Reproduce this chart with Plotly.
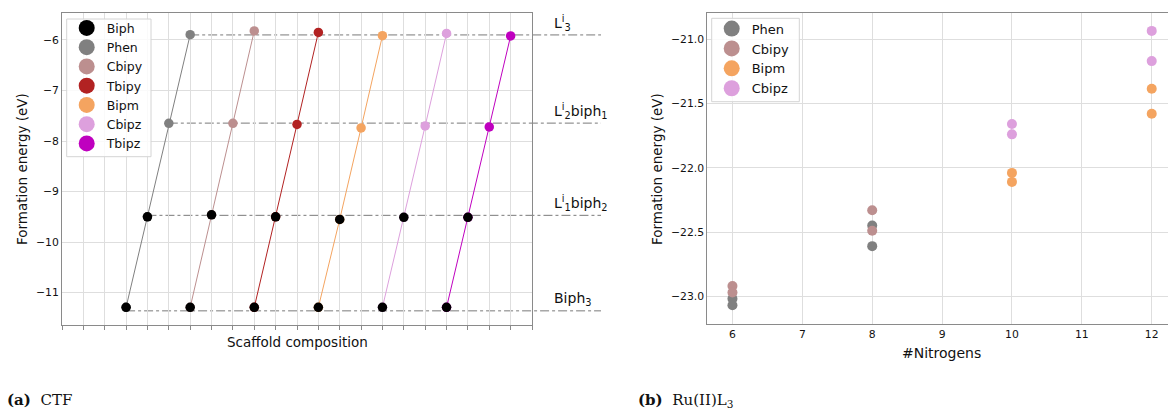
import plotly.graph_objects as go

# ---------------- Left panel (a) CTF ----------------
ligands = ["Phen", "Cbipy", "Tbipy", "Bipm", "Cbipz", "Tbipz"]
ligand_colors = ["#808080", "#bc8f8f", "#b22222", "#f4a460", "#dda0dd", "#bf00bf"]
biph_name = "Biph"
biph_color = "#000000"

# scaffold position of the Biph3 member of each ligand series
series_start = [3, 6, 9, 12, 15, 18]
# formation energies (eV) for compositions Biph3, L1biph2, L2biph1, L3
e_biph3 = [-11.29, -11.29, -11.29, -11.29, -11.29, -11.29]
e_l1biph2 = [-9.50, -9.46, -9.50, -9.55, -9.51, -9.51]
e_l2biph1 = [-7.65, -7.65, -7.67, -7.74, -7.70, -7.72]
e_l3 = [-5.895, -5.82, -5.85, -5.915, -5.87, -5.92]

# reference levels (dash-dot lines) and their labels
ref_levels = [-11.36, -9.47, -7.645, -5.90]
ref_labels = ["Biph<sub>3</sub>",
              "L<sup>i</sup><sub>1</sub>biph<sub>2</sub>",
              "L<sup>i</sup><sub>2</sub>biph<sub>1</sub>",
              "L<sup>i</sup><sub>3</sub>"]

# ---------------- Right panel (b) Ru(II)L3 ----------------
ru_ligands = ["Phen", "Cbipy", "Bipm", "Cbipz"]
ru_colors = ["#808080", "#bc8f8f", "#f4a460", "#dda0dd"]
phen_n = [6, 6, 8, 8]
phen_e = [-23.02, -23.07, -22.45, -22.61]
cbipy_n = [6, 6, 8, 8]
cbipy_e = [-22.92, -22.97, -22.33, -22.49]
bipm_n = [10, 10, 12, 12]
bipm_e = [-22.04, -22.11, -21.385, -21.58]
cbipz_n = [10, 10, 12, 12]
cbipz_e = [-21.66, -21.74, -20.935, -21.17]
ru_n = [phen_n, cbipy_n, bipm_n, cbipz_n]
ru_e = [phen_e, cbipy_e, bipm_e, cbipz_e]

FONT = "DejaVu Sans"
W, H = 1168, 410
AX = "#8a8a8a"
GRID = "#dedede"
TXT = "#111111"

fig = go.Figure()

# ligand series (lines + markers)
for i, (name, col) in enumerate(zip(ligands, ligand_colors)):
    xs = [series_start[i] + k for k in range(4)]
    ys = [e_biph3[i], e_l1biph2[i], e_l2biph1[i], e_l3[i]]
    fig.add_trace(go.Scatter(x=xs, y=ys, mode="lines+markers",
                             line=dict(color=col, width=1),
                             marker=dict(color=col, size=9.5),
                             showlegend=False, xaxis="x", yaxis="y"))
# Biph markers on top
bx, by = [], []
for i in range(len(ligands)):
    bx += [series_start[i], series_start[i] + 1]
    by += [e_biph3[i], e_l1biph2[i]]
fig.add_trace(go.Scatter(x=bx, y=by, mode="markers",
                         marker=dict(color=biph_color, size=9.5),
                         showlegend=False, xaxis="x", yaxis="y"))

# legend entries left
for name, col in zip([biph_name] + ligands, [biph_color] + ligand_colors):
    fig.add_trace(go.Scatter(x=[None], y=[None], mode="markers", name=name,
                             marker=dict(color=col, size=16),
                             legend="legend", xaxis="x", yaxis="y"))

# right panel
for name, col, xs, ys in zip(ru_ligands, ru_colors, ru_n, ru_e):
    fig.add_trace(go.Scatter(x=xs, y=ys, mode="markers",
                             marker=dict(color=col, size=10),
                             showlegend=False, xaxis="x2", yaxis="y2"))
for name, col in zip(ru_ligands, ru_colors):
    fig.add_trace(go.Scatter(x=[None], y=[None], mode="markers", name=name,
                             marker=dict(color=col, size=16),
                             legend="legend2", xaxis="x2", yaxis="y2"))

# axes geometry
xl0, xl1 = 62 / W, 532 / W
yl0, yl1 = 1 - 325 / H, 1 - 13 / H
xr0, xr1 = 707.3 / W, 1.0
yr0, yr1 = 1 - 324.3 / H, 1 - 13.3 / H
xrange_left = [0, 22]

# dash-dot reference lines, from first series point to beyond the axes
line_end = (601 - 62) / (532 - 62)
for k, lev in enumerate(ref_levels):
    xstart = series_start[0] + k
    fig.add_shape(type="line", xref="x domain", yref="y",
                  x0=(xstart - xrange_left[0]) / (xrange_left[1] - xrange_left[0]),
                  x1=line_end, y0=lev, y1=lev,
                  line=dict(color="#7a7a7a", width=1, dash="dashdot"), layer="below")
    fig.add_annotation(xref="x domain", yref="y", x=(552 - 62) / (532 - 62),
                       y=lev + 0.24, text=ref_labels[k], showarrow=False,
                       xanchor="left", yanchor="middle",
                       font=dict(family=FONT, size=14, color=TXT))

# legend frames (matplotlib-style boxes)
def px_rect(x0, y0, x1, y1):
    fig.add_shape(type="rect", xref="paper", yref="paper",
                  x0=x0 / W, x1=x1 / W, y0=1 - y1 / H, y1=1 - y0 / H,
                  line=dict(color="#d4d4d4", width=1),
                  fillcolor="rgba(255,255,255,0.85)", layer="above")

px_rect(66.7, 19, 151, 156.7)
px_rect(711.7, 18.3, 799.3, 101.7)

tickfont = dict(family=FONT, size=10.8, color=TXT)
fig.update_layout(
    width=W, height=H, margin=dict(l=0, r=0, t=0, b=0),
    paper_bgcolor="white", plot_bgcolor="white",
    font=dict(family=FONT, color=TXT),
    xaxis=dict(domain=[xl0, xl1], range=xrange_left, tickvals=list(range(0, 23)),
               showticklabels=False, ticks="outside", ticklen=3.5, tickcolor=AX,
               showgrid=True, gridcolor=GRID, gridwidth=1, zeroline=False,
               showline=True, linecolor=AX, linewidth=1, mirror=True),
    yaxis=dict(domain=[yl0, yl1], range=[-11.64, -5.466], dtick=1,
               tickfont=tickfont, ticks="",
               showgrid=True, gridcolor=GRID, zeroline=False,
               showline=True, linecolor=AX, linewidth=1, mirror=True),
    xaxis2=dict(domain=[xr0, xr1], range=[5.64, 12.233], dtick=1, anchor="y2",
                tickfont=tickfont, ticks="", showgrid=True, gridcolor=GRID,
                zeroline=False, showline=True, linecolor=AX, linewidth=1, mirror=True),
    yaxis2=dict(domain=[yr0, yr1], range=[-23.218, -20.798], dtick=0.5,
                tickformat=".1f", anchor="x2", tickfont=tickfont, ticks="",
                showgrid=True, gridcolor=GRID, zeroline=False,
                showline=True, linecolor=AX, linewidth=1, mirror=False),
    legend=dict(x=66.7 / W, y=1 - 13.3 / H, xanchor="left", yanchor="top",
                font=dict(family=FONT, size=12.5, color=TXT),
                bgcolor="rgba(0,0,0,0)", borderwidth=0),
    legend2=dict(x=711.7 / W, y=1 - 13.6 / H, xanchor="left", yanchor="top",
                 font=dict(family=FONT, size=13, color=TXT),
                 bgcolor="rgba(0,0,0,0)", borderwidth=0),
)

# axis titles
def ann(x, y, text, size, angle=0, family=FONT, xanchor="center"):
    fig.add_annotation(xref="paper", yref="paper", x=x / W, y=1 - y / H,
                       text=text, textangle=angle, showarrow=False,
                       xanchor=xanchor, yanchor="middle",
                       font=dict(family=family, size=size, color=TXT))

ann(22, 169, "Formation energy (eV)", 13.5, -90)
ann(657, 169, "Formation energy (eV)", 13.5, -90)
ann(297, 342, "Scaffold composition", 13.5)
ann(942, 353, "#Nitrogens", 14)
# captions
ann(5, 400, "<b>(a)</b>\u00a0 CTF", 15, family="DejaVu Serif", xanchor="left")
ann(636, 400, "<b>(b)</b>\u00a0 Ru(II)L<sub>3</sub>", 15, family="DejaVu Serif", xanchor="left")

fig.write_html("out.html", config={"displayModeBar": False},
               post_script="document.body.style.margin='0';")
